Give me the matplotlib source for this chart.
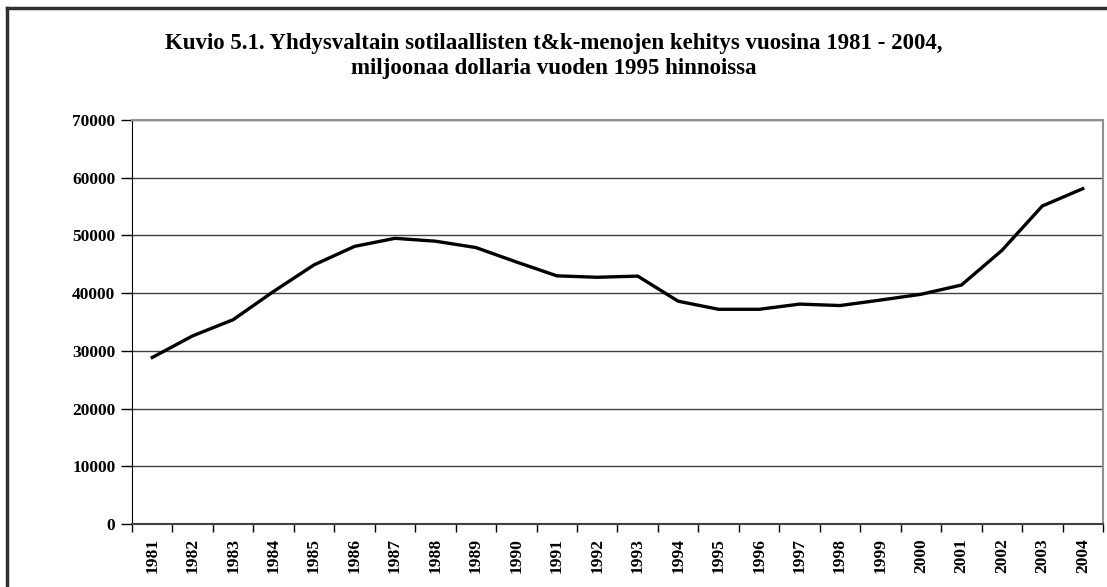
import matplotlib
matplotlib.use("Agg")
import matplotlib.pyplot as plt
from matplotlib.lines import Line2D

years = [str(y) for y in range(1981, 2005)]
spending = [28850, 32600, 35400, 40300, 44900, 48100, 49500, 49000, 47900,
            45400, 43000, 42750, 42950, 38600, 37200, 37200, 38100, 37850,
            38800, 39800, 41400, 47400, 55100, 58100]
yticks = list(range(0, 70001, 10000))

title = ("Kuvio 5.1. Yhdysvaltain sotilaallisten t&k-menojen kehitys vuosina 1981 - 2004,\n"
         "miljoonaa dollaria vuoden 1995 hinnoissa")

plt.rcParams['font.family'] = ['Liberation Serif', 'DejaVu Serif']
plt.rcParams['font.weight'] = 'bold'

fig = plt.figure(figsize=(11.07, 5.87), dpi=100)
ax = fig.add_axes([132/1107, 1 - 524/587, (1103 - 132)/1107, (524 - 120)/587])

x = list(range(len(years)))
ax.plot(x, spending, color='black', lw=2.4, solid_joinstyle='miter', zorder=3)

ax.set_xlim(-0.5, len(years) - 0.5)
ax.set_ylim(0, 70000)
ax.set_yticks(yticks)
ax.set_yticklabels([str(v) for v in yticks], fontsize=12.5, fontweight='bold')
ax.set_xticks(x)
ax.set_xticklabels(years, rotation=90, fontsize=12.5, fontweight='bold')
ax.set_xticks([i - 0.5 for i in range(len(years) + 1)], minor=True)
ax.tick_params(axis='x', which='major', length=0, pad=10)
ax.tick_params(axis='x', which='minor', length=6, width=1, color='black', direction='out')
ax.tick_params(axis='y', length=8, width=1, color='black', pad=4)

ax.yaxis.grid(True, color='#404040', lw=1)
ax.set_axisbelow(True)
for side in ['top', 'right']:
    ax.spines[side].set_color('#909090')
    ax.spines[side].set_linewidth(1.5)
ax.spines['left'].set_color('black')
ax.spines['bottom'].set_color('#404040')
ax.spines['bottom'].set_linewidth(1.5)

fig.text(0.5, 1 - 56/587, title, ha='center', va='center', fontsize=16.5,
         fontweight='bold', linespacing=1.2)

# outer chart border (top and left only visible in reference)
fig.add_artist(Line2D([7/1107, 7/1107], [0, 1 - 8/587], color='#303030', lw=2.5))
fig.add_artist(Line2D([7/1107, 1], [1 - 8/587, 1 - 8/587], color='#303030', lw=2.5))

fig.savefig('out.png', dpi=100)
